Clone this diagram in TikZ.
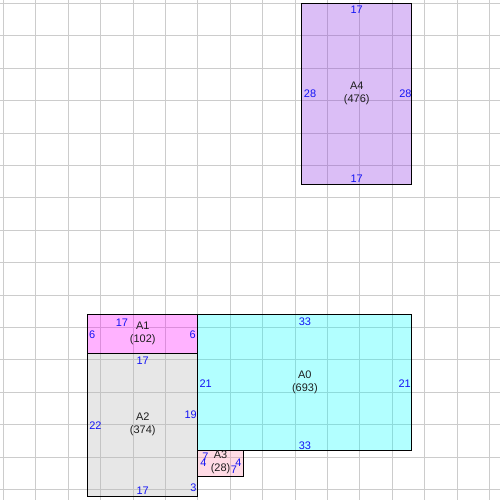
\documentclass[tikz,border=0pt]{standalone}
\usepackage{fontspec}
\setmainfont{Liberation Sans}
\definecolor{gridc}{RGB}{204,204,204}
\definecolor{labc}{RGB}{20,20,245}
\definecolor{namec}{RGB}{30,30,30}
\definecolor{fA0}{RGB}{0,255,255}
\definecolor{fA1}{RGB}{255,0,255}
\definecolor{fA2}{RGB}{178,178,178}
\definecolor{fA3}{RGB}{255,138,172}
\definecolor{fA4}{RGB}{138,43,226}
\tikzset{
  gridline/.style={gridc, line width=0.57pt},
  room/.style={draw=black, line width=0.6pt, fill opacity=0.3},
  lab/.style={inner sep=0pt, text=labc, font=\fontsize{6.24}{7.4}\selectfont},
  nm/.style={inner sep=0pt, text=namec, align=center, font=\fontsize{6.24}{7.4}\selectfont},
}
\begin{document}
\begin{tikzpicture}[x=0.1297cm,y=-0.1297cm]
\useasboundingbox (-0.509,-0.509) rectangle (76.59,76.59);
\fill[white] (-0.509,-0.509) rectangle (76.59,76.59);
\foreach \i in {0,5,...,75} {
  \draw[gridline] (\i,-0.6) -- (\i,76.7);
  \draw[gridline] (-0.6,\i) -- (76.7,\i);
}
% rooms
\draw[room, fill=fA4] (46,0) rectangle (63,28);
\draw[room, fill=fA0] (30,48) rectangle (63,69);
\draw[room, fill=fA1] (13,48) rectangle (30,54);
\draw[room, fill=fA2] (13,54) rectangle (30,76);
\draw[room, fill=fA3] (30,69) rectangle (37,73);
% A4
\node[lab] (A4t) at (54.5,1.05) {17};
\node[lab] (A4b) at (54.5,27.1) {17};
\node[lab] (A4l) at (47.3,14) {28};
\node[lab] (A4r) at (62.0,14) {28};
\node[nm] (A4n) at (54.5,13.9) {A4\\(476)};
% A0
\node[lab] (A0t) at (46.5,49.15) {33};
\node[lab] (A0b) at (46.5,68.15) {33};
\node[lab] (A0l) at (31.2,58.6) {21};
\node[lab] (A0r) at (61.9,58.6) {21};
\node[nm] (A0n) at (46.5,58.4) {A0\\(693)};
% A1
\node[lab] (A1t) at (18.3,49.2) {17};
\node[lab] (A1l) at (13.7,51.1) {6};
\node[lab] (A1r) at (29.2,51.1) {6};
\node[nm] (A1n) at (21.5,50.9) {A1\\(102)};
% A2
\node[lab] (A2t) at (21.5,55.15) {17};
\node[lab] (A2b) at (21.5,75.15) {17};
\node[lab] (A2l) at (14.2,65.1) {22};
\node[lab] (A2r) at (28.9,63.5) {19};
\node[lab] (A2r2) at (29.3,74.7) {3};
\node[nm] (A2n) at (21.5,64.9) {A2\\(374)};
% A3
\node[lab] (A3t) at (31.18,69.9) {7};
\node[lab] (A3l) at (30.87,70.9) {4};
\node[lab] (A3r) at (36.27,70.9) {4};
\node[lab] (A3b) at (35.57,71.9) {7};
\node[nm] (A3n) at (33.5,70.8) {A3\\(28)};
\end{tikzpicture}
\end{document}
